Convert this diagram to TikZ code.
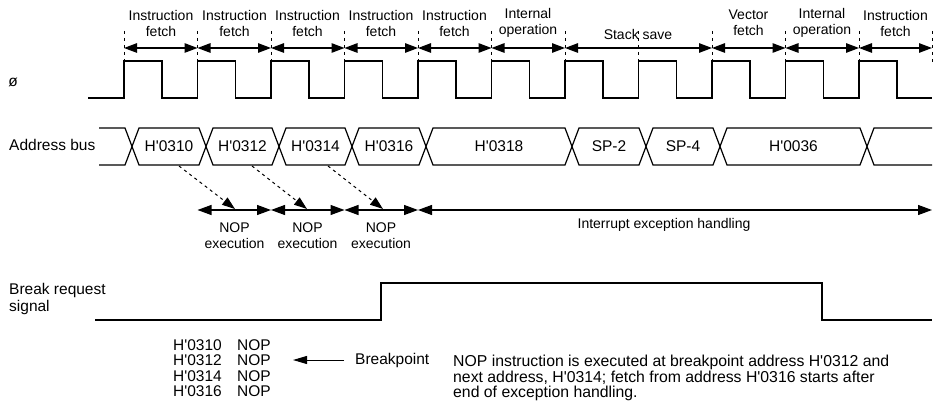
\documentclass[tikz,border=0pt]{standalone}
\usepackage{fontspec}
\newfontfamily\arial{Liberation Sans}
\usetikzlibrary{arrows.meta}
\begin{document}
\begin{tikzpicture}[x=1pt,y=-1pt,
  wave/.style={line width=1.2pt, line join=miter},
  dimarrow/.style={line width=1.2pt, {Triangle[length=13pt,width=9.5pt]}-{Triangle[length=13pt,width=9.5pt]}},
  nimarrow/.style={line width=1.2pt, {Triangle[length=14pt,width=10pt]}-{Triangle[length=14pt,width=10pt]}},
  onearrow/.style={line width=1pt, -{Triangle[length=14pt,width=8pt]}},
  dasharrow/.style={line width=1pt, dash pattern=on 3pt off 3.5pt, -{Triangle[length=13pt,width=9pt]}},
  guide/.style={line width=0.8pt, dash pattern=on 3pt off 4pt},
  toplbl/.style={font=\arial\fontsize{14}{16}\selectfont, align=center, inner sep=0pt},
  lbl/.style={font=\arial\fontsize{15.5}{17}\selectfont, inner sep=0pt},
  notelbl/.style={font=\arial\fontsize{15.8}{15.5}\selectfont, inner sep=0pt},
  small/.style={font=\arial\fontsize{14}{16.5}\selectfont, align=center, inner sep=0pt},
]
\useasboundingbox (0,0) rectangle (935,406);

% ---- top phase guides
\foreach \x [count=\k] in {124,197.5,271,344.5,418,491.5,565,638.5,712,785.5,859,932}
  \coordinate (g\k) at (\x,48);
\foreach \x in {124,197.5,271,344.5,418,491.5,565,638.5,712,785.5,859}
  \draw[guide] (\x,31) -- (\x,61);
\draw[guide] (932,31) -- (932,65);
\foreach \a/\b in {1/2,2/3,3/4,4/5,5/6,6/7,7/9,9/10,10/11,11/12}
  \draw[dimarrow] (g\a) -- (g\b);

\node[toplbl] (p1) at (161,23) {Instruction\\fetch};
\node[toplbl] (p2) at (234.5,23) {Instruction\\fetch};
\node[toplbl] (p3) at (307.5,23) {Instruction\\fetch};
\node[toplbl] (p4) at (381,23) {Instruction\\fetch};
\node[toplbl] (p5) at (454.5,23) {Instruction\\fetch};
\node[toplbl] (p6) at (528,23) {Internal\\operation};
\node[toplbl] (p7) at (638,34) {Stack save};
\node[toplbl] (p8) at (748.5,23) {Vector\\fetch};
\node[toplbl] (p9) at (822,23) {Internal\\operation};
\node[toplbl] (p10) at (895.5,23) {Instruction\\fetch};

% ---- clock
\node[lbl] (phi) at (13,82) {ø};
\draw[wave] (88,98)
  \foreach \i in {0,...,10} {
    -- ({124+73.5*\i},98) -- ({124+73.5*\i},61) -- ({162+73.5*\i},61) -- ({162+73.5*\i},98)
  } -- (932,98);

% ---- address bus
\node[lbl, anchor=west] (ab) at (9,145) {Address bus};
\draw[wave] (99,128) -- (125,128) -- (132,146.5) -- (125,165) -- (99,165);
\foreach \l/\r in {132/206,206/279,279/352,352/426,426/572,572/646,646/720,720/867}
  \draw[wave] (\l,146.5) -- (\l+7,128) -- (\r-7,128) -- (\r,146.5) -- (\r-7,165) -- (\l+7,165) -- cycle;
\draw[wave] (932,128) -- (874,128) -- (867,146.5) -- (874,165) -- (932,165);
\node[lbl] (a1) at (169,146.5) {H'0310};
\node[lbl] (a2) at (242.5,146.5) {H'0312};
\node[lbl] (a3) at (315.5,146.5) {H'0314};
\node[lbl] (a4) at (389,146.5) {H'0316};
\node[lbl] (a5) at (499,146.5) {H'0318};
\node[lbl] (a6) at (609,146.5) {SP-2};
\node[lbl] (a7) at (683,146.5) {SP-4};
\node[lbl] (a8) at (793.5,146.5) {H'0036};

% ---- execution arrows
\coordinate (s1) at (179,166);
\coordinate (s2) at (252,166);
\coordinate (s3) at (328,166);
\coordinate (e1) at (235,209);
\coordinate (e2) at (307,209);
\coordinate (e3) at (383,209);
\draw[dasharrow] (s1) -- (e1);
\draw[dasharrow] (s2) -- (e2);
\draw[dasharrow] (s3) -- (e3);

\coordinate (n1) at (197.5,210);
\coordinate (n2) at (271,210);
\coordinate (n3) at (344.5,210);
\coordinate (n4) at (418,210);
\coordinate (n5) at (932,210);
\draw[nimarrow] (n1) -- (n2);
\draw[nimarrow] (n2) -- (n3);
\draw[nimarrow] (n3) -- (n4);
\draw[nimarrow] (n4) -- (n5);
\node[small] (x1) at (234.5,235.5) {NOP\\execution};
\node[small] (x2) at (307.5,235.5) {NOP\\execution};
\node[small] (x3) at (381,235.5) {NOP\\execution};
\node[small] (ieh) at (664,225) {Interrupt exception handling};

% ---- break request
\node[lbl, anchor=west, align=left] (br) at (9,299) {Break request\\signal};
\draw[wave] (95,320) -- (381,320) -- (381,283) -- (822,283) -- (822,320) -- (932,320);

% ---- listing
\foreach \a [count=\k] in {0310,0312,0314,0316} {
  \node[lbl, anchor=west] (h\k) at (173,{329.5+15.5*\k}) {H'\a};
  \node[lbl, anchor=west] (o\k) at (237,{329.5+15.5*\k}) {NOP};
}
\node[lbl, anchor=west] (bp) at (355,360) {Breakpoint};
\coordinate (bpa) at (344,360);
\coordinate (bpb) at (293,360);
\draw[onearrow] (bpa) -- (bpb);

\node[notelbl, anchor=west, align=left] (note) at (453,378)
  {NOP instruction is executed at breakpoint address H'0312 and\\
   next address, H'0314; fetch from address H'0316 starts after\\
   end of exception handling.};
\end{tikzpicture}
\end{document}
